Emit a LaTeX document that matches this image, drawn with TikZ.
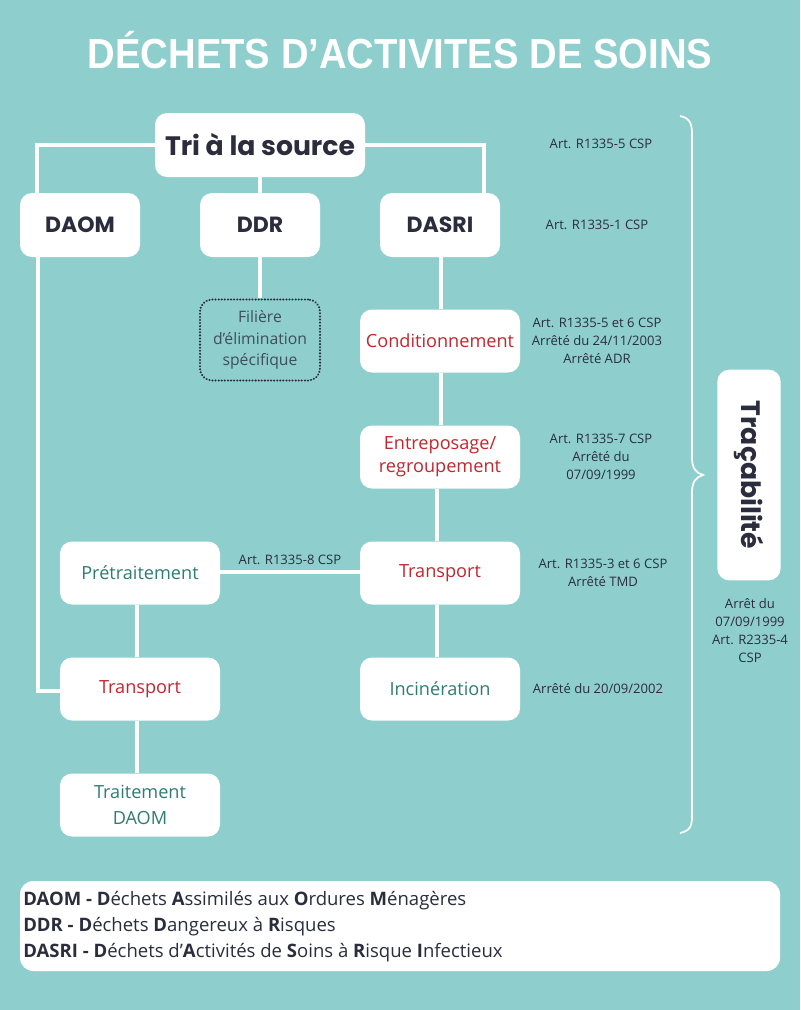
\documentclass[tikz,border=0pt]{standalone}
\usepackage{fontspec}
\setmainfont{Open Sans}
\newfontfamily\popp{Poppins}
\newfontfamily\titlefont{Liberation Sans}
\usetikzlibrary{calc}
\definecolor{bg}{HTML}{8ECFCE}
\definecolor{ink}{HTML}{2B2D3E}
\definecolor{redt}{HTML}{C1272D}
\definecolor{tealt}{HTML}{2E7D72}
\definecolor{greyt}{HTML}{3F4D5A}
\tikzset{
  box/.style={fill=white, rounded corners=9pt, inner sep=0pt, align=center},
  headbox/.style={box, minimum width=90pt, minimum height=48pt, font=\popp\bfseries\fontsize{16.5pt}{18pt}\selectfont, text=ink},
  stepbox/.style={box, minimum width=120pt, minimum height=47.25pt, font=\fontsize{13.6pt}{18pt}\selectfont},
  link/.style={draw=white, line width=3pt},
  note/.style={font=\fontsize{9.8pt}{13.5pt}\selectfont, text=ink, align=center, inner sep=0pt},
  legline/.style={font=\fontsize{13.9pt}{16pt}\selectfont, text=ink, anchor=west, inner sep=0pt},
}
\begin{document}
\begin{tikzpicture}[x=0.75pt,y=-0.75pt]
\fill[bg] (0,0) rectangle (800,1010);
\useasboundingbox (0,0) rectangle (800,1010);

% title
\node[text=white, font=\titlefont\bfseries\fontsize{31.5pt}{36pt}\selectfont] (title) at (400,50) {\scalebox{0.91}[1]{DÉCHETS D’ACTIVITES DE SOINS}};

% top
\node[box, minimum width=157.5pt, minimum height=48pt, font=\popp\bfseries\fontsize{20pt}{22pt}\selectfont, text=ink] (tri) at (260,145) {Tri à la source};
\node[headbox] (daom) at (80,225) {DAOM};
\node[headbox] (ddr) at (260,225) {DDR};
\node[headbox] (dasri) at (440,225) {DASRI};

\node[box, minimum width=90pt, minimum height=60.75pt, draw=ink, line width=1.7pt, dash pattern=on 0.01pt off 2.3pt, line cap=round, fill=bg, text=greyt, font=\fontsize{11.8pt}{16pt}\selectfont] (fil) at (260,340) {Filière\\d’élimination\\spécifique};

\node[stepbox, text=redt] (cond) at (440,341) {Conditionnement};
\node[stepbox, text=redt, font=\fontsize{13.6pt}{17.5pt}\selectfont] (entr) at (440,457) {Entreposage/\\regroupement};
\node[stepbox, text=redt] (trR) at (440,573) {Transport};
\node[stepbox, text=tealt] (inc) at (440,689) {Incinération};
\node[stepbox, text=tealt] (pre) at (140,573) {Prétraitement};
\node[stepbox, text=redt] (trL) at (140,689) {Transport};
\node[stepbox, text=tealt, font=\fontsize{13.6pt}{19pt}\selectfont] (trait) at (140,805) {Traitement\\DAOM};

% connectors
\draw[link] (tri.west) -| ($(daom.north)+(-43,0)$);
\draw[link] (tri.east) -| ($(dasri.north)+(44,0)$);
\draw[link] (tri.south) -- (ddr.north);
\draw[link] (ddr.south) -- (fil.north);
\draw[link] ($(dasri.south)+(1,0)$) -- ($(cond.north)+(1,0)$);
\draw[link] ($(cond.south)+(1,0)$) -- ($(entr.north)+(1,0)$);
\draw[link] ($(entr.south)+(-3,0)$) -- ($(trR.north)+(-3,0)$);
\draw[link] ($(trR.south)+(-3,0)$) -- ($(inc.north)+(-3,0)$);
\draw[link] ($(daom.south)+(-42,0)$) |- ($(trL.west)+(0,2)$);
\draw[link] ($(pre.east)+(0,-1)$) -- node[note, above=4pt] (lbl8) {Art. R1335-8 CSP} ($(trR.west)+(0,-1)$);
\draw[link] ($(pre.south)+(-3,0)$) -- ($(trL.north)+(-3,0)$);
\draw[link] ($(trL.south)+(-3,0)$) -- ($(trait.north)+(-3,0)$);

% notes
\node[note] (n1) at (601,144) {Art. R1335-5 CSP};
\node[note] (n2) at (597,225) {Art. R1335-1 CSP};
\node[note] (n3) at (597,341) {Art. R1335-5 et 6 CSP\\Arrêté du 24/11/2003\\Arrêté ADR};
\node[note] (n4) at (601,457) {Art. R1335-7 CSP\\Arrêté du\\07/09/1999};
\node[note] (n5) at (603,573) {Art. R1335-3 et 6 CSP\\Arrêté TMD};
\node[note] (n6) at (598,689) {Arrêté du 20/09/2002};

% brace
\draw[white, line width=1.3pt] (680,116) .. controls (690,118) and (692,124) .. (692,134)
  -- (692,458) .. controls (692,468) and (696,473) .. (703,475)
  .. controls (696,477) and (692,482) .. (692,492)
  -- (692,816) .. controls (692,826) and (690,831) .. (680,833);

% tracabilite
\node[box, rotate=-90, minimum width=158pt, minimum height=47.5pt, font=\popp\bfseries\fontsize{20pt}{22pt}\selectfont, text=ink] (trac) at (749,475) {Traçabilité};
\node[note] (n7) at (750,631) {Arrêt du\\07/09/1999\\Art. R2335-4\\CSP};

% legend
\node[box, rounded corners=10pt, minimum width=570pt, minimum height=67.5pt] (leg) at (400,926) {};
\node[legline] (l1) at (23,901) {\textbf{DAOM - D}échets \textbf{A}ssimilés aux \textbf{O}rdures \textbf{M}énagères};
\node[legline] (l2) at (23,927) {\textbf{DDR - D}échets \textbf{D}angereux à \textbf{R}isques};
\node[legline] (l3) at (23,953) {\textbf{DASRI - D}échets d’\textbf{A}ctivités de \textbf{S}oins à \textbf{R}isque \textbf{I}nfectieux};
\end{tikzpicture}
\end{document}
